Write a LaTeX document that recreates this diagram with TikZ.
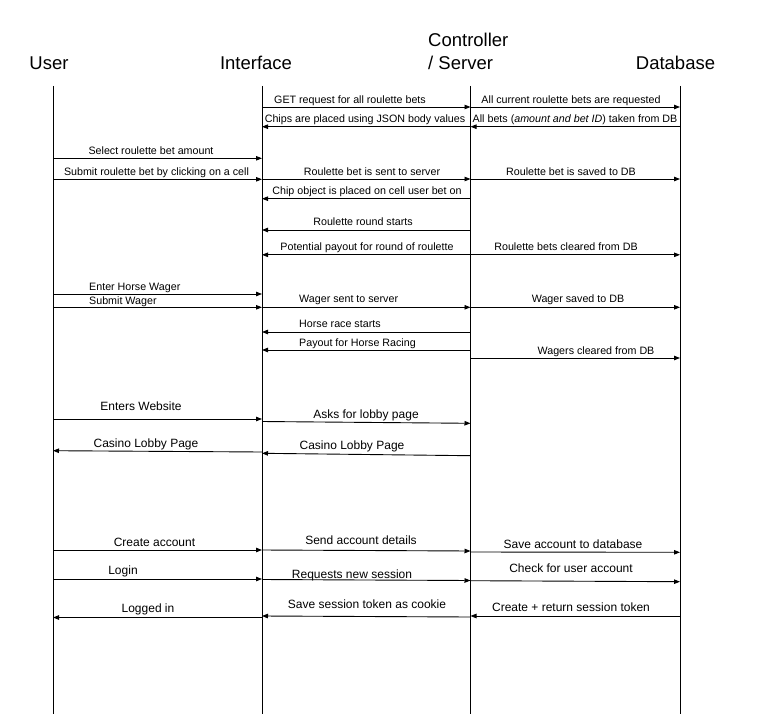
\documentclass[tikz,border=0pt]{standalone}
\usepackage{fontspec}
\setmainfont{Liberation Sans}
\usetikzlibrary{calc,arrows.meta}

% one message arrow: from lifeline #1 at depth #2 to lifeline #3 at depth #4
\newcommand{\msg}[4]{\draw[msgline] ($(#1)+(0,#2)$) -- ($(#3)+(0,#4)$);}

\tikzset{
  lifeline/.style={draw=black, line width=0.9bp},
  msgline/.style={draw=black, line width=0.9bp, -{Triangle[length=6bp,width=4.5bp]}},
  head/.style={inner sep=0pt, anchor=base, font=\fontsize{18.5bp}{22bp}\selectfont},
  lbl/.style={inner sep=0pt, anchor=base, font=\fontsize{10.7bp}{13bp}\selectfont},
  lbll/.style={lbl, anchor=base west},
  lblb/.style={inner sep=0pt, anchor=base, font=\fontsize{12bp}{14bp}\selectfont},
}

\begin{document}
\begin{tikzpicture}[x=1bp, y=-1bp]
\useasboundingbox[fill=white] (0,0) rectangle (762,714);

% participants
\node[head] (hU) at (49,70) {User};
\node[head] (hI) at (256,70) {Interface};
\node[head, anchor=base west] (hC1) at (428,47) {Controller};
\node[head, anchor=base west] (hC2) at (428,70) {/ Server};
\node[head] (hD) at (675.5,70) {Database};

% lifeline positions
\coordinate (U) at (53,0);
\coordinate (I) at (262,0);
\coordinate (C) at (470.5,0);
\coordinate (D) at (680,0);
\coordinate (top) at (0,86);
\coordinate (bottom) at (0,714);
\foreach \p in {U,I,C,D}
  \draw[lifeline] (\p |- top) -- (\p |- bottom);

% loading existing roulette bets
\node[lbl] (m1) at (350,104) {GET request for all roulette bets};
\msg{I}{107}{C}{107}
\node[lbl] (m2) at (571,104) {All current roulette bets are requested};
\msg{C}{107}{D}{107}
\node[lbl] (m3) at (365,122.3) {Chips are placed using JSON body values};
\msg{C}{126.7}{I}{126.7}
\node[lbl] (m4) at (575,122.3) {All bets (\textit{amount and bet ID}) taken from DB};
\msg{D}{126.7}{C}{126.7}

% placing a roulette bet
\node[lbl] (m5) at (151,154) {Select roulette bet amount};
\msg{U}{158.3}{I}{158.3}
\node[lbl] (m6) at (156.5,175.7) {Submit roulette bet by clicking on a cell};
\msg{U}{179.3}{I}{179.3}
\node[lbl] (m7) at (372,175.5) {Roulette bet is sent to server};
\msg{I}{179}{C}{179}
\node[lbl] (m8) at (571,175.3) {Roulette bet is saved to DB};
\msg{C}{179}{D}{179}
\node[lbl] (m9) at (367,194.3) {Chip object is placed on cell user bet on};
\msg{C}{198.7}{I}{198.7}

% roulette round
\node[lbl] (m10) at (363,225.7) {Roulette round starts};
\msg{C}{230}{I}{230}
\node[lbl] (m11) at (367,250.7) {Potential payout for round of roulette};
\msg{C}{254.8}{I}{254.8}
\node[lbl] (m12) at (566,250.7) {Roulette bets cleared from DB};
\msg{C}{254.8}{D}{254.8}

% horse racing
\node[lbll] (m13) at (89,290) {Enter Horse Wager};
\msg{U}{294}{I}{294}
\node[lbll] (m14) at (89,304) {Submit Wager};
\msg{U}{307.3}{I}{307.3}
\node[lbll] (m15) at (299,302) {Wager sent to server};
\msg{I}{307.3}{C}{307.3}
\node[lbl] (m16) at (578,302) {Wager saved to DB};
\msg{C}{307.3}{D}{307.3}
\node[lbll] (m17) at (299,327) {Horse race starts};
\msg{C}{332}{I}{332}
\node[lbll] (m18) at (299,346.5) {Payout for Horse Racing};
\msg{C}{350}{I}{350}
\node[lbl] (m19) at (596,354.5) {Wagers cleared from DB};
\msg{C}{358}{D}{358}

% lobby
\node[lblb] (m20) at (141,410.5) {Enters Website};
\msg{U}{419}{I}{419}
\node[lblb] (m21) at (366,418) {Asks for lobby page};
\msg{I}{421.5}{C}{423.3}
\node[lblb] (m22) at (146,447) {Casino Lobby Page};
\msg{I}{452}{U}{450.7}
\node[lblb] (m23) at (352,449) {Casino Lobby Page};
\msg{C}{455.7}{I}{453.3}

% accounts and sessions
\node[lblb] (m24) at (154.5,546) {Create account};
\msg{U}{550}{I}{550}
\node[lblb] (m25) at (361,544) {Send account details};
\msg{I}{550}{C}{551}
\node[lblb] (m26) at (573,548.5) {Save account to database};
\msg{C}{552}{D}{552.3}
\node[lblb] (m27) at (123,574) {Login};
\msg{U}{579}{I}{579}
\node[lblb] (m28) at (352,578) {Requests new session};
\msg{I}{579.5}{C}{580.5}
\node[lblb] (m29) at (571,572) {Check for user account};
\msg{C}{580.7}{D}{581.7}
\node[lblb] (m30) at (148,612) {Logged in};
\msg{I}{617.5}{U}{617.5}
\node[lblb] (m31) at (367,608.5) {Save session token as cookie};
\msg{C}{617}{I}{616}
\node[lblb] (m32) at (571,611) {Create + return session token};
\msg{D}{616}{C}{616}
\end{tikzpicture}
\end{document}
